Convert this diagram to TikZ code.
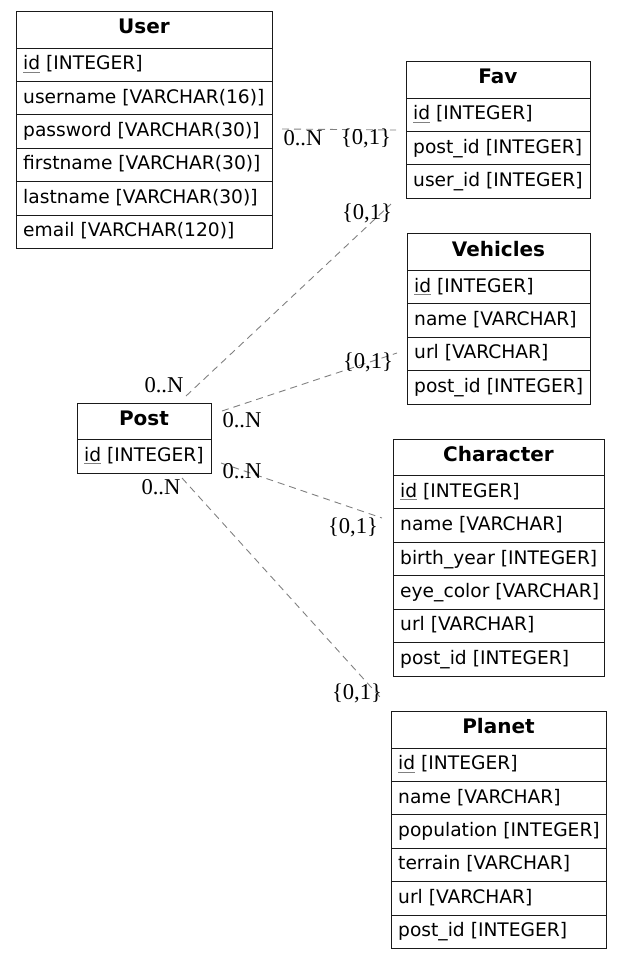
\documentclass[tikz,border=0pt]{standalone}
\usepackage{fontspec}
\setmainfont{Liberation Serif}
\newfontfamily\tblfont{DejaVu Sans}
\usetikzlibrary{calc}
\definecolor{edgegray}{HTML}{808080}
\definecolor{boxline}{HTML}{1A1A1A}
\newsavebox\pkbox
\newcommand{\pk}[1]{\sbox\pkbox{#1}\rlap{\color{gray}\rule[-2.6pt]{\wd\pkbox}{0.8pt}}\usebox\pkbox}
\tikzset{
  tbl/.style={draw=boxline, line width=1pt, rectangle, inner sep=0pt, fill=white},
  tblline/.style={draw=boxline, line width=1pt},
  hdr/.style={font=\tblfont\bfseries\fontsize{20}{24}\selectfont, inner sep=0pt, text height=14.5pt, text depth=0pt},
  fieldtxt/.style={font=\tblfont\fontsize{18.65}{22}\selectfont, inner sep=0pt, text height=13.6pt, text depth=3.6pt, anchor=west},
  card/.style={font=\fontsize{22.6}{26}\selectfont, inner sep=0pt},
  rel/.style={draw=edgegray, line width=0.9pt, dash pattern=on 7pt off 5pt}
}
% #1 name, #2 x, #3 y, #4 width, #5 title, #6 number of rows, #7 rows
\newcommand{\ertable}[7]{%
  \node[tbl, minimum width=#4pt, minimum height={37pt+#6*33.4pt}, anchor=north west] (#1) at (#2,#3) {};
  \node[hdr] (#1-title) at ($(#1.north west)+(#4/2,15.5)$) {#5};
  \foreach \txt [count=\i] in {#7} {
    \draw[tblline] ($(#1.north west)+(0,{37+(\i-1)*33.4})$) -- ++(#4,0);
    \node[fieldtxt] (#1-f\i) at ($(#1.north west)+(7,{37+(\i-0.5)*33.4})$) {\txt};
  }
}
\begin{document}
\begin{tikzpicture}[x=1pt, y=-1pt]
\useasboundingbox (0,0) rectangle (621,959);

\ertable{user}{16}{11}{256}{User}{6}{{\pk{id} [INTEGER]},{username [VARCHAR(16)]},{password [VARCHAR(30)]},{firstname [VARCHAR(30)]},{lastname [VARCHAR(30)]},{email [VARCHAR(120)]}}
\ertable{fav}{406}{61}{184}{Fav}{3}{{\pk{id} [INTEGER]},{post\_id [INTEGER]},{user\_id [INTEGER]}}
\ertable{vehicles}{407}{233.3}{183}{Vehicles}{4}{{\pk{id} [INTEGER]},{name [VARCHAR]},{url [VARCHAR]},{post\_id [INTEGER]}}
\ertable{post}{77}{402.5}{134}{Post}{1}{{\pk{id} [INTEGER]}}
\ertable{character}{393}{438.5}{211}{Character}{6}{{\pk{id} [INTEGER]},{name [VARCHAR]},{birth\_year [INTEGER]},{eye\_color [VARCHAR]},{url [VARCHAR]},{post\_id [INTEGER]}}
\ertable{planet}{391}{711}{215}{Planet}{6}{{\pk{id} [INTEGER]},{name [VARCHAR]},{population [INTEGER]},{terrain [VARCHAR]},{url [VARCHAR]},{post\_id [INTEGER]}}

% connector end points
\coordinate (uf-a) at (282,129);
\coordinate (uf-b) at (396,130);
\coordinate (pf-a) at (186,396);
\coordinate (pf-b) at (391,204);
\coordinate (pv-a) at (222,411);
\coordinate (pv-b) at (397,353);
\coordinate (pc-a) at (221,463);
\coordinate (pc-b) at (382,518);
\coordinate (pp-a) at (182,478);
\coordinate (pp-b) at (380,697);

\draw[rel] (uf-a) -- (uf-b);
\draw[rel] (pf-a) -- (pf-b);
\draw[rel] (pv-a) -- (pv-b);
\draw[rel] (pc-a) -- (pc-b);
\draw[rel] (pp-a) -- (pp-b);

% cardinality labels
\node[card] (uf-n) at (303,138) {0..N};
\node[card] (uf-1) at (366,138) {\{0,1\}};
\node[card] (pf-n) at (164,385) {0..N};
\node[card] (pf-1) at (367,213) {\{0,1\}};
\node[card] (pv-n) at (242,420) {0..N};
\node[card] (pv-1) at (368,362) {\{0,1\}};
\node[card] (pc-n) at (242,471) {0..N};
\node[card] (pc-1) at (353,527) {\{0,1\}};
\node[card] (pp-n) at (161,487) {0..N};
\node[card] (pp-1) at (357,693) {\{0,1\}};
\end{tikzpicture}
\end{document}
